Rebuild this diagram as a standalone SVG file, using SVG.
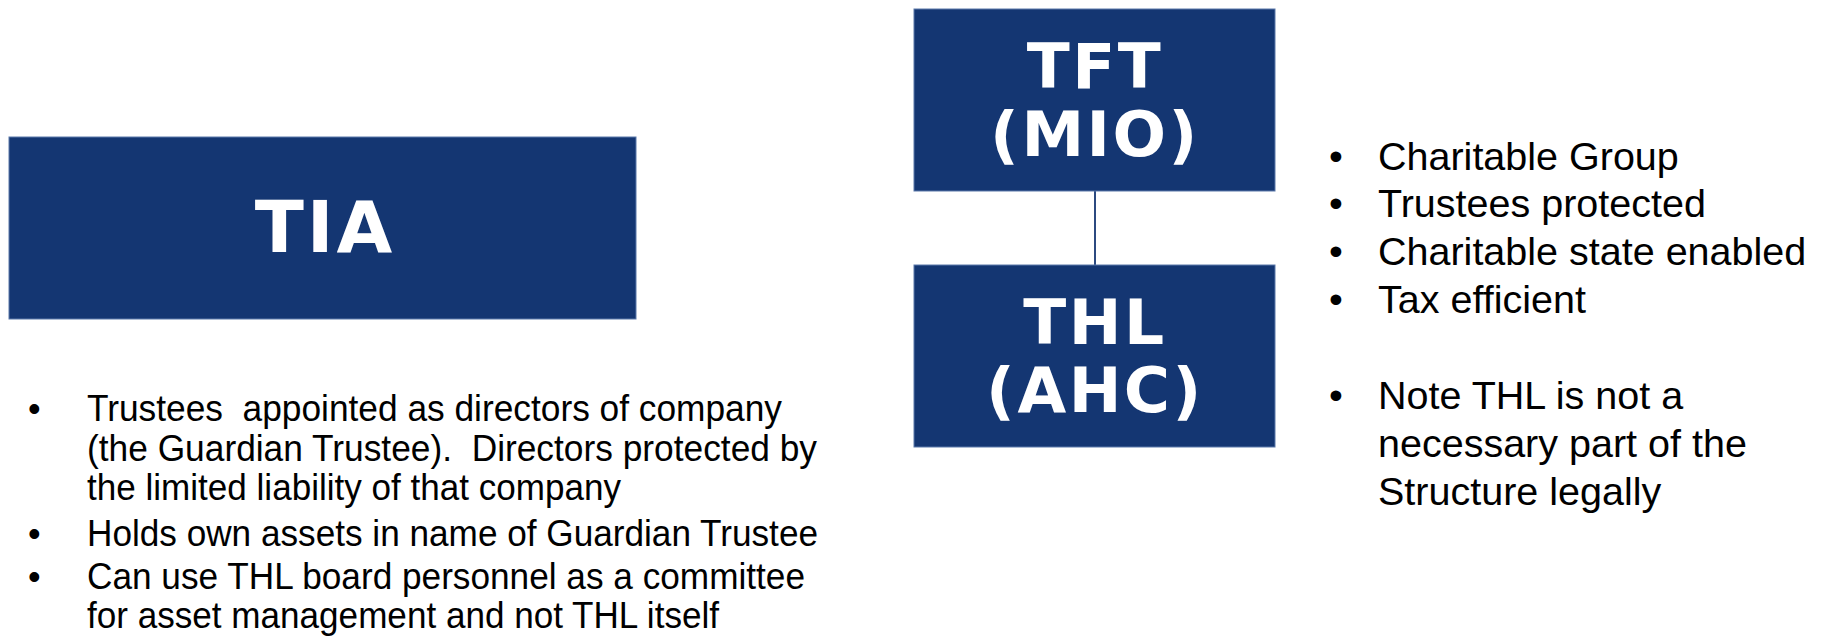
<svg xmlns="http://www.w3.org/2000/svg" width="1824" height="637" viewBox="0 0 1824 637">
<style>
.box{fill:#143672;stroke:#5a78aa;stroke-width:1}
.lbl{font-family:"DejaVu Sans",Verdana,sans-serif;font-weight:bold;fill:#ffffff;text-anchor:middle;font-size:63px;letter-spacing:2.5px}
.rt{font-family:"Liberation Sans",Arial,sans-serif;font-size:39.5px;fill:#000}
.lt{font-family:"Liberation Sans",Arial,sans-serif;font-size:36px;fill:#000}
.conn{stroke:#2c4a80;stroke-width:2;fill:none}
</style>
<rect width="1824" height="637" fill="#ffffff"/>
<g id="connectors">
<line class="conn" x1="1095" y1="191" x2="1095" y2="265"/>
</g>
<g id="tia">
<rect class="box" x="9" y="137" width="627" height="182"/>
<text class="lbl" x="325" y="252" style="font-size:72px;letter-spacing:3px">TIA</text>
</g>
<g id="tft">
<rect class="box" x="914" y="9" width="361" height="182"/>
<text class="lbl" x="1095" y="88">TFT</text>
<text class="lbl" x="1095" y="156">(MIO)</text>
</g>
<g id="thl">
<rect class="box" x="914" y="265" width="361" height="182"/>
<text class="lbl" x="1095" y="344">THL</text>
<text class="lbl" x="1095" y="412">(AHC)</text>
</g>
<g id="right-notes" class="rt">
<text x="1329" y="170">•</text><text x="1378" y="170">Charitable Group</text>
<text x="1329" y="217">•</text><text x="1378" y="217">Trustees protected</text>
<text x="1329" y="265">•</text><text x="1378" y="265">Charitable state enabled</text>
<text x="1329" y="313">•</text><text x="1378" y="313">Tax efficient</text>
<text x="1329" y="409">•</text><text x="1378" y="409">Note THL is not a</text>
<text x="1378" y="457">necessary part of the</text>
<text x="1378" y="505">Structure legally</text>
</g>
<g id="left-notes" class="lt">
<text x="28" y="421">•</text><text x="87" y="421" textLength="695" lengthAdjust="spacingAndGlyphs" xml:space="preserve">Trustees  appointed as directors of company</text>
<text x="87" y="461" textLength="730" lengthAdjust="spacingAndGlyphs" xml:space="preserve">(the Guardian Trustee).  Directors protected by</text>
<text x="87" y="500" textLength="534" lengthAdjust="spacingAndGlyphs">the limited liability of that company</text>
<text x="28" y="546">•</text><text x="87" y="546" textLength="731" lengthAdjust="spacingAndGlyphs">Holds own assets in name of Guardian Trustee</text>
<text x="28" y="589">•</text><text x="87" y="589" textLength="718" lengthAdjust="spacingAndGlyphs">Can use THL board personnel as a committee</text>
<text x="87" y="628" textLength="632" lengthAdjust="spacingAndGlyphs">for asset management and not THL itself</text>
</g>
</svg>
